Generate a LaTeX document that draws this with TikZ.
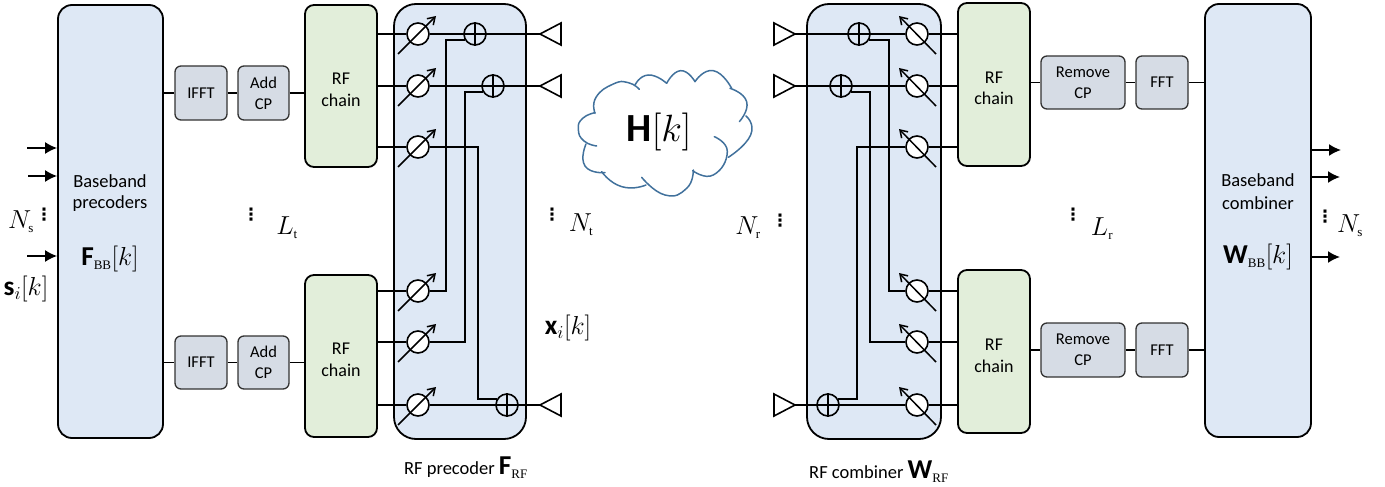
\documentclass[tikz,border=0pt]{standalone}
\usepackage{fix-cm}
\usepackage[no-math]{fontspec}
\setmainfont{Carlito}
\newfontfamily\subfont{Liberation Serif}
\newfontfamily\dotfont{DejaVu Sans}
\usetikzlibrary{arrows.meta,calc}
\definecolor{bluefill}{RGB}{222,232,245}
\definecolor{greenfill}{RGB}{226,238,218}
\definecolor{grayfill}{RGB}{214,220,229}
\definecolor{cloudcolor}{RGB}{65,113,156}
\definecolor{smallline}{RGB}{50,50,50}
\tikzset{
  bigbox/.style={draw, fill=bluefill, line width=1.8pt, rounded corners=14pt, inner sep=0pt},
  rfbox/.style={draw, fill=greenfill, line width=1.8pt, rounded corners=9pt, inner sep=0pt},
  rftxt/.style={inner sep=0pt, align=center, font=\fontsize{18}{21.5}\selectfont},
  smallbox/.style={draw=smallline, fill=grayfill, line width=1.3pt, rounded corners=6pt, inner sep=0pt, align=center, font=\fontsize{16.5}{21}\selectfont},
  shifternd/.style={draw, fill=white, circle, line width=1.6pt, minimum size=22pt, inner sep=0pt},
  adderne/.style={draw, fill=bluefill, circle, line width=1.6pt, minimum size=22pt, inner sep=0pt},
  wire/.style={line width=1.6pt},
  shiftarrow/.style={-{Straight Barb[length=7pt,width=9pt]}, line width=1.5pt},
  streamarrow/.style={-{Latex[length=12pt,width=12pt]}, line width=1.7pt},
  cloudln/.style={line width=1.5pt, cloudcolor, line cap=round},
  txt/.style={font=\fontsize{18.5}{22}\selectfont, inner sep=0pt},
  mathlbl/.style={font=\fontsize{26}{30}\selectfont, inner sep=0pt},
  dotsnd/.style={font=\dotfont\bfseries\fontsize{17}{17}\selectfont, inner sep=0pt},
}
\newcommand{\bsym}[1]{\mbox{\normalfont\bfseries\scalebox{1.05}{#1}}}
\newcommand{\subtxt}[1]{\mbox{\subfont\fontsize{13}{13}\selectfont #1}}
\newcommand{\antenna}[3]{%
  \coordinate (#1) at #2;
  \draw[line width=1.6pt, line join=miter] (#1) -- ++(#3,-11) -- ++(0,22) -- cycle;
}
\begin{document}
\begin{tikzpicture}[x=1pt,y=-1pt]
  \useasboundingbox (0,0) rectangle (1385,487);
  % transmitter boxes
  \node[bigbox, minimum width=105pt, minimum height=433pt] (bbprec) at (110.5,221.5) {};
  \node[bigbox, rounded corners=22pt, minimum width=132pt, minimum height=435pt] (rfprec) at (460,221.5) {};
  \node[smallbox, minimum width=52pt, minimum height=54pt] (iffta) at (201,93) {IFFT};
  \node[smallbox, minimum width=51pt, minimum height=54pt] (cpa) at (263.5,93) {Add\\CP};
  \node[smallbox, minimum width=52pt, minimum height=53pt] (ifftb) at (201,362.5) {IFFT};
  \node[smallbox, minimum width=51pt, minimum height=53pt] (cpb) at (263.5,362.5) {Add\\CP};
  \node[rfbox, minimum width=72pt, minimum height=162pt] (rfa) at (341,86) {};
  \node[rfbox, minimum width=72pt, minimum height=162pt] (rfb) at (341,356) {};
  \node[rftxt] (rftxta) at (341,90) {RF\\chain};
  \node[rftxt] (rftxtb) at (341,360) {RF\\chain};
  % receiver boxes
  \node[bigbox, rounded corners=22pt, minimum width=134pt, minimum height=435pt] (rfcomb) at (874,221.5) {};
  \node[bigbox, minimum width=106pt, minimum height=433pt] (bbcomb) at (1258,220.5) {};
  \node[rfbox, minimum width=72pt, minimum height=163pt] (rfc) at (994,84.5) {};
  \node[rfbox, minimum width=72pt, minimum height=163pt] (rfd) at (994,351.5) {};
  \node[rftxt] (rftxtc) at (994,88.5) {RF\\chain};
  \node[rftxt] (rftxtd) at (994,356) {RF\\chain};
  \node[smallbox, minimum width=84pt, minimum height=53pt] (rema) at (1083,82.5) {Remove\\CP};
  \node[smallbox, minimum width=52pt, minimum height=53pt] (ffta) at (1162,82.5) {FFT};
  \node[smallbox, minimum width=84pt, minimum height=54pt] (remb) at (1083,350) {Remove\\CP};
  \node[smallbox, minimum width=52pt, minimum height=54pt] (fftb) at (1162,350) {FFT};
  % phase shifters and adders
  \foreach \nm/\yy in {psa/34,psb/86,psc/147,psd/291,pse/342,psf/405}{
    \node[shifternd] (\nm) at (418,\yy) {};
  }
  \foreach \nm/\yy in {psg/34,psh/86,psi/147,psj/291,psk/342,psl/405}{
    \node[shifternd] (\nm) at (917,\yy) {};
  }
  \node[adderne] (adda) at (475,34) {};
  \node[adderne] (addb) at (493,86) {};
  \node[adderne] (addc) at (507,405) {};
  \node[adderne] (addd) at (859,34) {};
  \node[adderne] (adde) at (841,86) {};
  \node[adderne] (addf) at (828,405) {};
  \antenna{anta}{(540,34)}{21}
  \antenna{antb}{(540,86)}{21}
  \antenna{antc}{(540,405)}{21}
  \antenna{antd}{(795,34)}{-21}
  \antenna{ante}{(795,86)}{-21}
  \antenna{antf}{(795,405)}{-21}
  \coordinate (busa) at (446,0);
  \coordinate (busb) at (465,0);
  \coordinate (busc) at (478,0);
  \coordinate (busd) at (889,0);
  \coordinate (buse) at (870,0);
  \coordinate (busf) at (857,0);
  % chain wires
  \draw[wire] (bbprec.east |- iffta) -- (iffta);
  \draw[wire] (iffta) -- (cpa);
  \draw[wire] (cpa) -- (rfa.west |- cpa);
  \draw[wire] (bbprec.east |- ifftb) -- (ifftb);
  \draw[wire] (ifftb) -- (cpb);
  \draw[wire] (cpb) -- (rfb.west |- cpb);
  \draw[wire] (rfc.east |- rema) -- (rema);
  \draw[wire] (rema) -- (ffta);
  \draw[wire] (ffta) -- (bbcomb.west |- ffta);
  \draw[wire] (rfd.east |- remb) -- (remb);
  \draw[wire] (remb) -- (fftb);
  \draw[wire] (fftb) -- (bbcomb.west |- fftb);
  % rf wires
  \foreach \rf/\nm in {rfa/psa,rfa/psb,rfa/psc,rfb/psd,rfb/pse,rfb/psf}{
    \draw[wire] (\rf.east |- \nm) -- (\nm);
  }
  \foreach \rf/\nm in {rfc/psg,rfc/psh,rfc/psi,rfd/psj,rfd/psk,rfd/psl}{
    \draw[wire] (\rf.west |- \nm) -- (\nm);
  }
  \draw[wire] (psa) -- (adda);
  \draw[wire] (adda) -- (anta);
  \draw[wire] (psb) -- (addb);
  \draw[wire] (addb) -- (antb);
  \draw[wire] (psf) -- (addc);
  \draw[wire] (addc) -- (antc);
  \draw[wire] (psg) -- (addd);
  \draw[wire] (addd) -- (antd);
  \draw[wire] (psh) -- (adde);
  \draw[wire] (adde) -- (ante);
  \draw[wire] (psl) -- (addf);
  \draw[wire] (addf) -- (antf);
  \draw[wire] (adda.210) -| (busa |- psd) -- (psd);
  \draw[wire] (addb.210) -| (busb |- pse) -- (pse);
  \draw[wire] (psc) -| (busc |- addc.150) -- (addc.150);
  \draw[wire] (addd.330) -| (busd |- psj) -- (psj);
  \draw[wire] (adde.330) -| (buse |- psk) -- (psk);
  \draw[wire] (psi) -| (busf |- addf.30) -- (addf.30);
  % redraw on top of the wires
  \foreach \nm in {adda,addb,addc,addd,adde,addf}{
    \draw[line width=1.3pt] (\nm.north) -- (\nm.south);
    \draw[line width=1.3pt] (\nm.west) -- (\nm.east);
  }
  \foreach \nm in {psa,psb,psc,psd,pse,psf}{
    \draw[shiftarrow] ($(\nm)+(-20,20)$) -- ($(\nm)+(18,-18)$);
  }
  \foreach \nm in {psg,psh,psi,psj,psk,psl}{
    \draw[shiftarrow] ($(\nm)+(19,20)$) -- ($(\nm)+(-18,-18)$);
  }
  % streams
  \coordinate (ina) at (27,148);
  \coordinate (inb) at (28,176);
  \coordinate (inc) at (27,256);
  \coordinate (outa) at (1341,150);
  \coordinate (outb) at (1340,177);
  \coordinate (outc) at (1340,257);
  \foreach \st in {ina,inb,inc}{
    \draw[streamarrow] (\st) -- (bbprec.west |- \st);
  }
  \foreach \st in {outa,outb,outc}{
    \draw[streamarrow] (bbcomb.east |- \st) -- (\st);
  }
  % cloud
  \begin{scope}[shift={(570,60)}, x=0.3333pt, y=-0.3333pt]
    \draw[cloudln] plot[smooth,tension=0.9] coordinates {(75,158) (38,175) (25,208) (42,243) (80,258)};
    \draw[cloudln] plot[smooth,tension=0.9] coordinates {(75,160) (78,112) (130,72) (175,68) (208,88)};
    \draw[cloudln] plot[smooth,tension=1] coordinates {(195,75) (235,45) (290,70)};
    \draw[cloudln] plot[smooth,tension=1] coordinates {(290,70) (332,32) (375,65)};
    \draw[cloudln] plot[smooth,tension=1] coordinates {(375,65) (430,32) (485,85)};
    \draw[cloudln] plot[smooth,tension=1] coordinates {(480,85) (530,125) (508,185)};
    \draw[cloudln] plot[smooth,tension=1] coordinates {(528,168) (542,225) (475,292)};
    \draw[cloudln] plot[smooth,tension=0.9] coordinates {(433,230) (472,275) (430,345) (368,332)};
    \draw[cloudln] plot[smooth,tension=0.9] coordinates {(370,330) (350,385) (285,405) (215,352)};
    \draw[cloudln] plot[smooth,tension=1] coordinates {(228,375) (155,380) (95,335)};
    \draw[cloudln] plot[smooth,tension=1] coordinates {(105,338) (45,318) (48,252)};
  \end{scope}
  % labels
  \node[font=\fontsize{38}{42}\selectfont, inner sep=0pt] (hlbl) at (659,132) {$\bsym{H}[k]$};
  \node[txt] (bbtxta) at (110,181) {Baseband};
  \node[txt] (bbtxtb) at (110,204) {precoders};
  \node[mathlbl] (bbfrm) at (110,259) {$\bsym{F}_{\subtxt{BB}}[k]$};
  \node[txt] (cbtxta) at (1258,180) {Baseband};
  \node[txt] (cbtxtb) at (1258,203) {combiner};
  \node[mathlbl] (cbfrm) at (1258,257) {$\bsym{W}_{\subtxt{BB}}[k]$};
  \node[mathlbl] (nsa) at (21,222) {$N_{\subtxt{s}}$};
  \node[mathlbl] (silbl) at (26,289) {$\bsym{s}_i[k]$};
  \node[mathlbl] (ltlbl) at (287,228) {$L_{\subtxt{t}}$};
  \node[mathlbl] (ntlbl) at (581,225) {$N_{\subtxt{t}}$};
  \node[mathlbl] (xilbl) at (568,328) {$\bsym{x}_i[k]$};
  \node[mathlbl] (nrlbl) at (748,228) {$N_{\subtxt{r}}$};
  \node[mathlbl] (lrlbl) at (1102,229) {$L_{\subtxt{r}}$};
  \node[mathlbl] (nsb) at (1350,226) {$N_{\subtxt{s}}$};
  \node[dotsnd] (dota) at (44,215) {⋮};
  \node[dotsnd] (dotb) at (251,215) {⋮};
  \node[dotsnd] (dotc) at (552,215) {⋮};
  \node[dotsnd] (dotd) at (780,221) {⋮};
  \node[dotsnd] (dote) at (1073,215) {⋮};
  \node[dotsnd] (dotf) at (1325,217) {⋮};
  \node[txt] (prectxt) at (466,468) {RF precoder {\fontsize{26}{30}\selectfont$\bsym{F}_{\subtxt{RF}}$}};
  \node[txt] (combtxt) at (879,472) {RF combiner {\fontsize{26}{30}\selectfont$\bsym{W}_{\subtxt{RF}}$}};
\end{tikzpicture}
\end{document}
